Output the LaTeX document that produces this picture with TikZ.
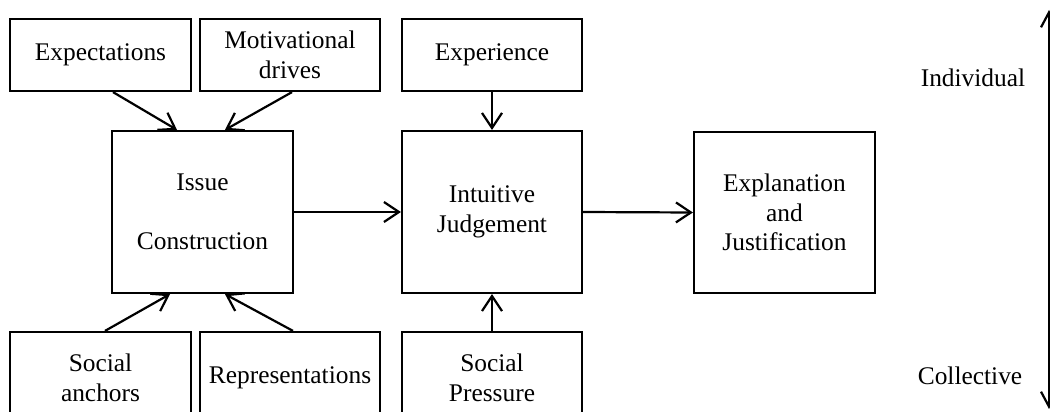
\documentclass[tikz,border=0pt]{standalone}
\usepackage{fontspec}
\setmainfont{Liberation Serif}
\usetikzlibrary{arrows.meta,calc}
\begin{document}
\begin{tikzpicture}[x=1pt,y=-1pt,
  box/.style={draw,line width=2.2pt,align=center,inner sep=0pt,
    font=\fontsize{25.4}{29.5}\selectfont},
  lbl/.style={inner sep=0pt,font=\fontsize{25.4}{29.5}\selectfont},
  arr/.style={line width=2.2pt,-{Straight Barb[length=15pt,width=20pt,line width=2.2pt]}},
  darr/.style={line width=2.2pt,{Straight Barb[length=15pt,width=16pt,line width=2.2pt]}-{Straight Barb[length=15pt,width=16pt,line width=2.2pt]}}]
\clip (0,0) rectangle (1050,412);
\fill[white] (0,0) rectangle (1050,412);
% top row
\node[box,minimum width=181pt,minimum height=72pt] (exp) at (100.5,55) {Expectations};
\node[box,minimum width=180pt,minimum height=72pt] (mot) at (290,55) {Motivational\\drives};
\node[box,minimum width=180pt,minimum height=72pt] (expr) at (492,55) {Experience};
% middle row
\node[box,minimum width=181pt,minimum height=162pt] (iss) at (202.5,212) {Issue\\[30pt]Construction};
\node[box,minimum width=180pt,minimum height=162pt] (intu) at (492,212) {Intuitive\\Judgement};
\node[box,minimum width=181pt,minimum height=161pt] (expl) at (784.5,212.5) {Explanation\\and\\Justification};
% bottom row
\node[box,minimum width=181pt,minimum height=92pt] (soc) at (100.5,378) {Social\\anchors};
\node[box,minimum width=180pt,minimum height=92pt] (rep) at (290,378) {Representations};
\node[box,minimum width=180pt,minimum height=92pt] (pres) at (492,378) {Social\\Pressure};
% labels
\node[lbl] (ind) at (973,78) {Individual};
\node[lbl] (col) at (970,376) {Collective};
\coordinate (axtop) at (1049,10);
\coordinate (axbot) at (1049,409);
% connectors
\draw[arr] ([xshift=12.5pt]exp.south) -- ([xshift=-25.5pt]iss.north);
\draw[arr] ([xshift=2pt]mot.south) -- ([xshift=22.5pt]iss.north);
\draw[arr] ([xshift=4.5pt]soc.north) -- ([xshift=-32.5pt]iss.south);
\draw[arr] ([xshift=3pt]rep.north) -- ([xshift=22.5pt]iss.south);
\draw[arr] (expr.south) -- (intu.north);
\draw[arr] (pres.north) -- (intu.south);
\draw[arr] (iss.east) -- (intu.west);
\draw[arr] (intu.east) -- (expl.west);
\draw[darr] (axtop) -- (axbot);
\end{tikzpicture}
\end{document}
